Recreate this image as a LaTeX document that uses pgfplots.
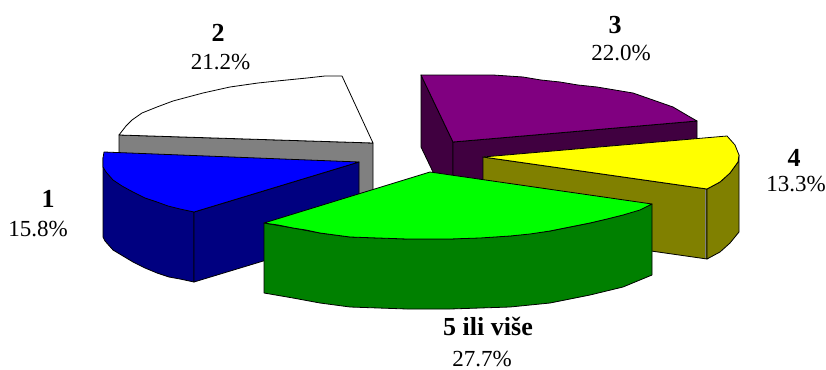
\documentclass[border=0pt]{standalone}
\usepackage{pgfplots}
\pgfplotsset{compat=1.18}
\usepackage{fontspec}
\setmainfont{Liberation Serif}
\definecolor{plum}{HTML}{800080}
\definecolor{plumdark}{HTML}{400040}
\definecolor{sun}{HTML}{FFFF00}
\definecolor{olivey}{HTML}{808000}
\definecolor{bluep}{HTML}{0000FF}
\definecolor{navyb}{HTML}{000080}
\definecolor{lime}{HTML}{00FF00}
\definecolor{greend}{HTML}{008000}
\definecolor{grayw}{HTML}{808080}
\tikzset{
  lab/.style={font=\fontsize{23}{24}\selectfont, inner sep=0pt, anchor=center},
  hd/.style={font=\fontsize{26}{28}\selectfont\bfseries, inner sep=0pt, anchor=center},
}
\begin{document}
\begin{tikzpicture}
\begin{axis}[
  scale only axis, width=826pt, height=369pt,
  xmin=0, xmax=826, ymin=0, ymax=369, y dir=reverse,
  hide axis, clip=false,
  every axis plot/.append style={draw=black, line width=0.8pt, line join=round, mark=none},
]
% fixes the picture's extent to the whole plotting area
\path (axis cs:0,0) rectangle (axis cs:826,369);
% slice 2: white top and grey wall
\addplot[fill=grayw] coordinates {(119,135) (373,143) (373,195) (359,200) (119,160)} --cycle;
\addplot[fill=white] coordinates {(119,135) (126,126) (132,120) (142,113) (157,107) (173,101) (188,97) (203,93) (230,87) (258,83) (277,81) (307,78) (325,76) (342,76) (373,143)} --cycle;
% slice 3: purple
\addplot[fill=plumdark] coordinates {(421,75) (453,142) (453,212) (433,172) (421,147)} --cycle;
\addplot[fill=plumdark] coordinates {(453,142) (697,121) (697,192) (453,212)} --cycle;
\addplot[fill=plum] coordinates {(421,75) (493,75) (508,76) (523,77) (541,80) (560,82) (578,85) (597,87) (615,90) (633,93) (653,100) (673,107) (690,117) (697,121) (453,142)} --cycle;
% slice 4: yellow
\addplot[fill=olivey] coordinates {(483,157) (707,189) (707,259) (483,227)} --cycle;
\addplot[fill=olivey] coordinates {(707,189) (720,182) (730,173) (738,162) (739,155) (739,232) (730,243) (720,252) (707,259)} --cycle;
\addplot[fill=sun] coordinates {(483,157) (727,136) (735,145) (739,155) (738,162) (730,173) (720,182) (707,189)} --cycle;
\addplot[draw=grayw, line width=1pt] coordinates {(705,190) (705,258)};
% slice 1: blue
\addplot[fill=navyb] coordinates {(103,158) (103,237) (105,241) (113,250) (123,256) (133,262) (145,268) (157,273) (169,277) (180,279) (194,282) (194,212)} --cycle;
\addplot[fill=navyb] coordinates {(194,212) (359,162) (359,232) (194,282)} --cycle;
\addplot[fill=bluep] coordinates {(104,152) (359,162) (194,212) (180,209) (168,206) (157,202) (145,198) (133,192) (122,186) (113,180) (106,172) (103,167) (103,158)} --cycle;
% slice 5: green
\addplot[fill=greend] coordinates {(264,223) (293,228) (320,233) (350,237) (407,239) (450,239) (510,236) (550,231) (590,223) (623,215) (652,204) (652,275) (623,287) (590,295) (550,303) (510,307) (450,309) (407,309) (350,307) (320,303) (293,298) (264,293)} --cycle;
\addplot[fill=lime] coordinates {(430,172) (652,204) (640,210) (623,215) (607,219) (590,223) (570,227) (550,231) (530,234) (510,236) (480,238) (450,239) (407,239) (378,238) (350,237) (335,235) (320,233) (306,230) (293,228) (278,225) (264,223)} --cycle;
% labels
\node[hd] at (axis cs:218,33) {2};
\node[lab] at (axis cs:220.5,62) {21.2\%};
\node[hd] at (axis cs:615,25) {3};
\node[lab] at (axis cs:621,53) {22.0\%};
\node[hd] at (axis cs:794,158) {4};
\node[lab] at (axis cs:796,184) {13.3\%};
\node[hd] at (axis cs:48,199) {1};
\node[lab] at (axis cs:38,229) {15.8\%};
\node[hd] at (axis cs:488,326) {5 ili više};
\node[lab] at (axis cs:482,359) {27.7\%};
\end{axis}
\end{tikzpicture}
\end{document}
